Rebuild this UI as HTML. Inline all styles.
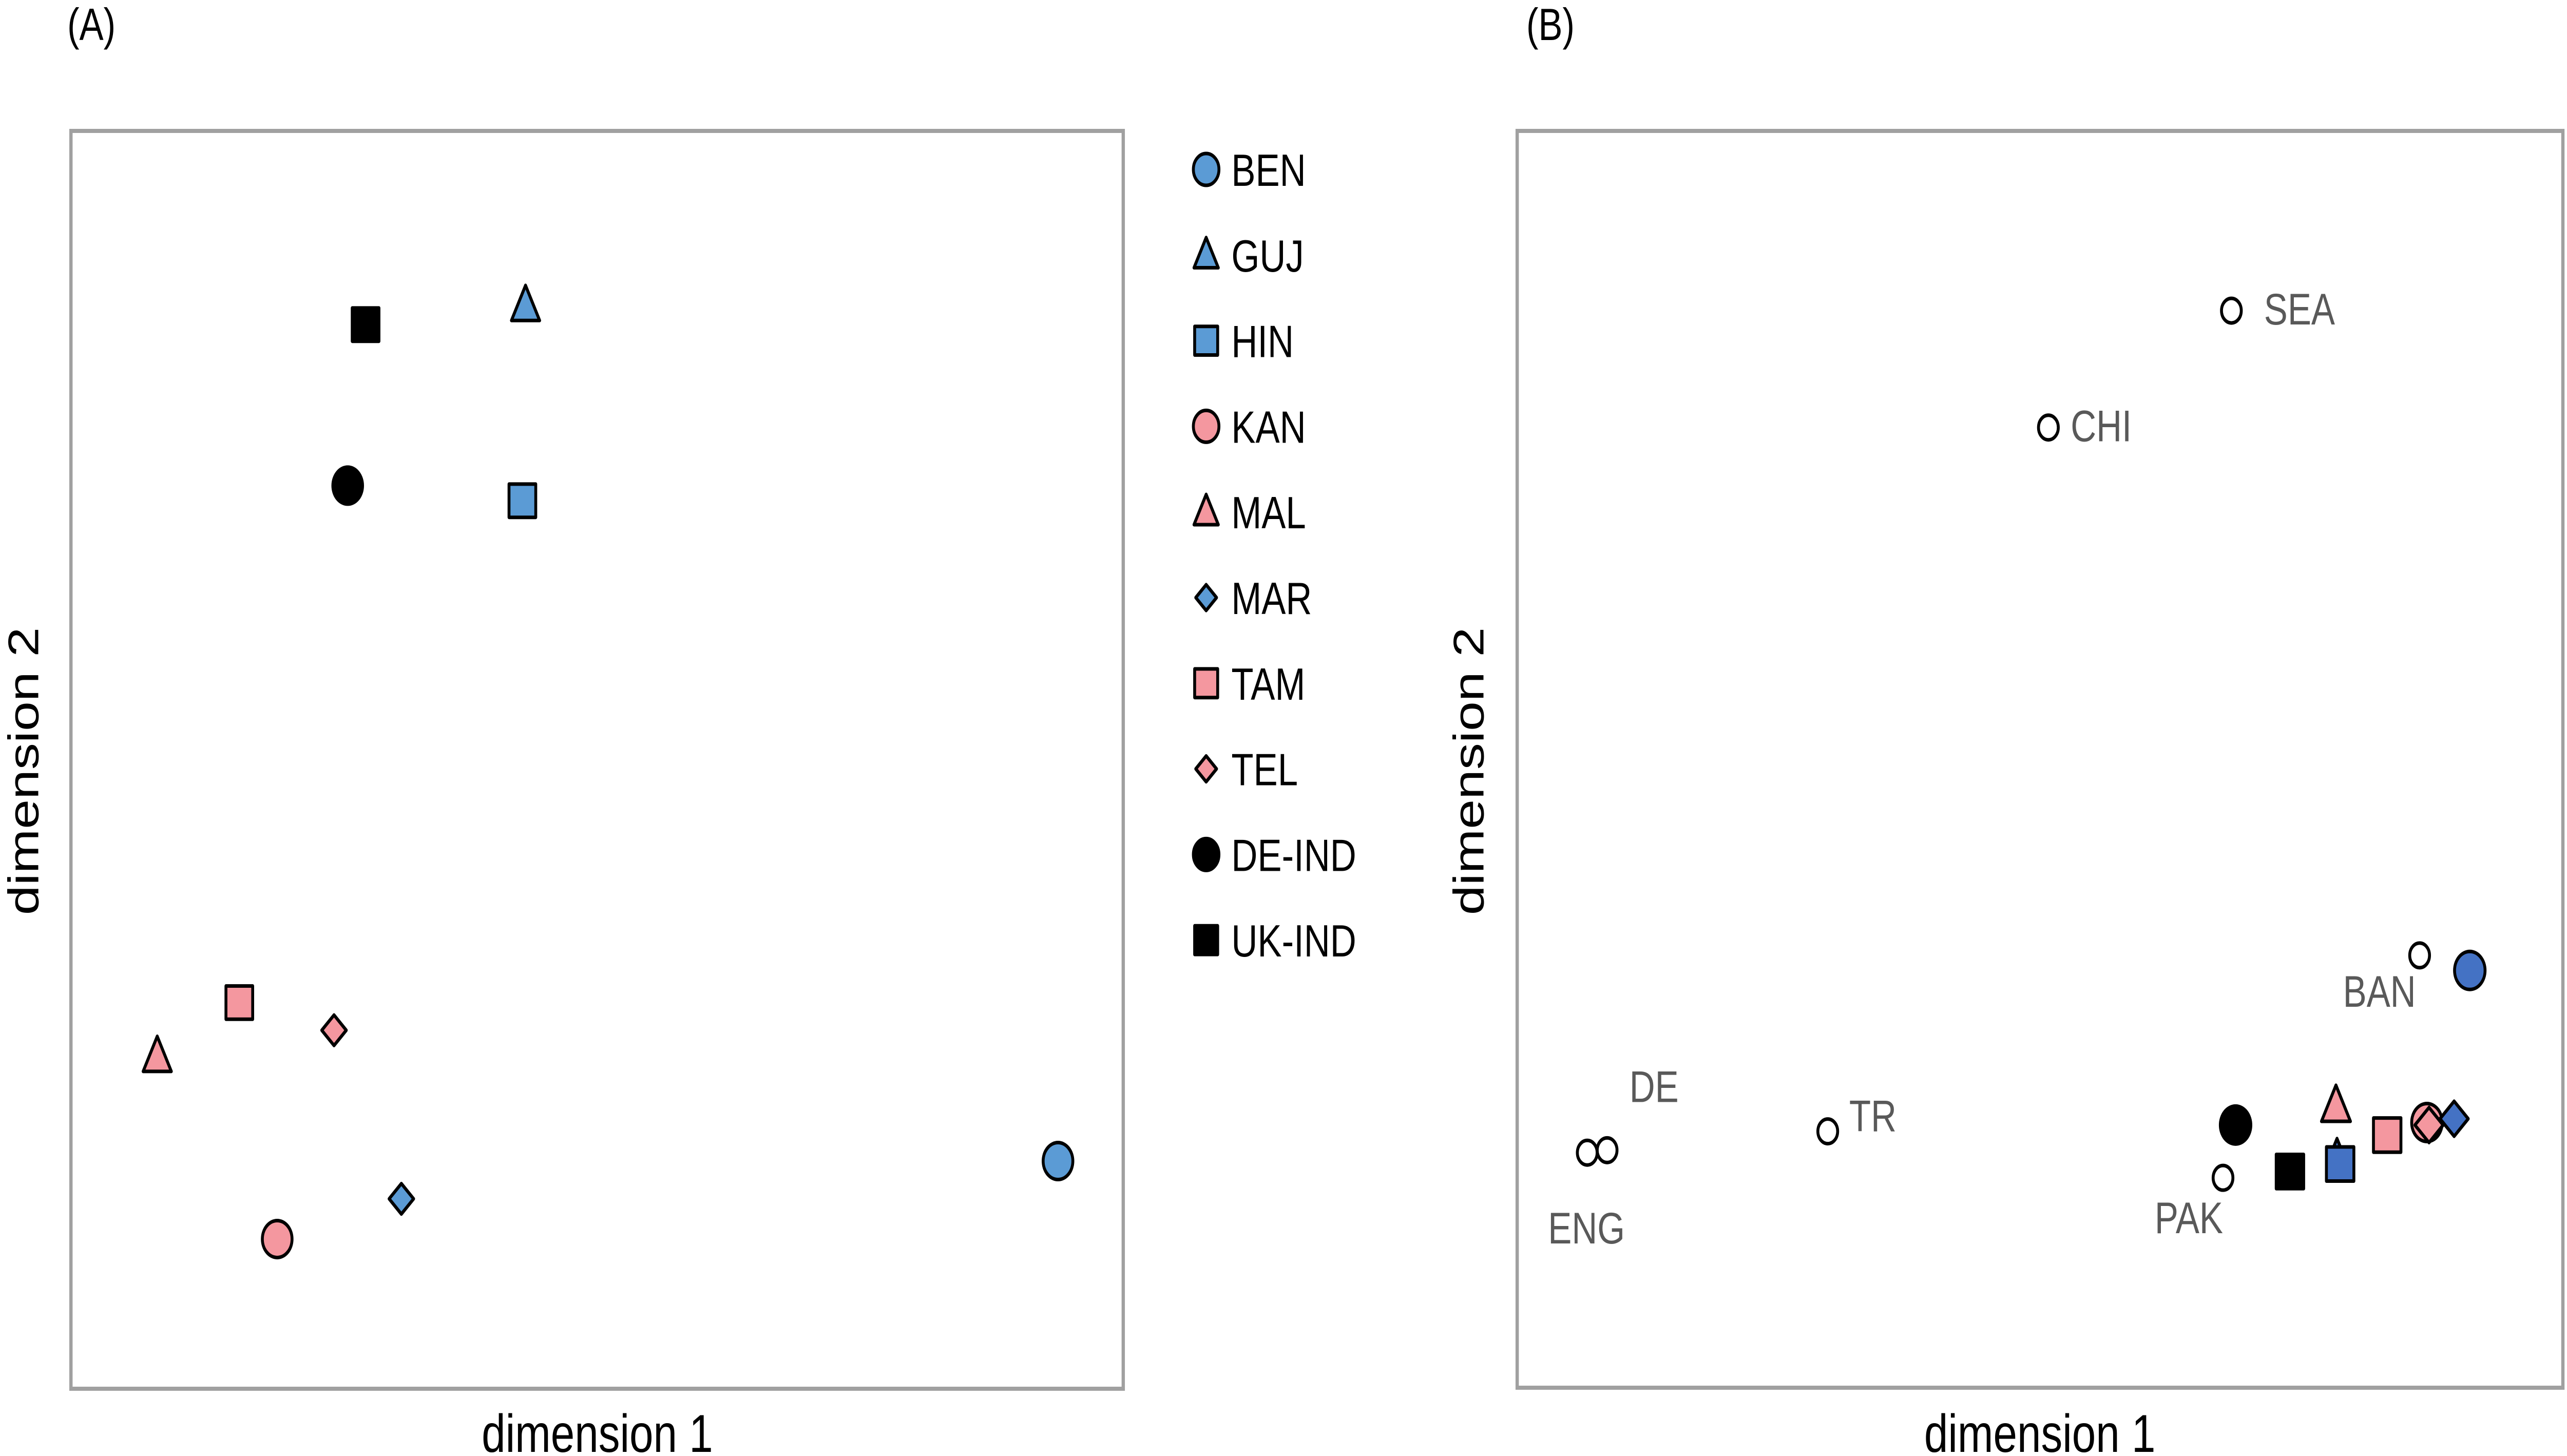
<!DOCTYPE html>
<html><head><meta charset="utf-8"><style>
html,body{margin:0;padding:0;background:#fff;overflow:hidden;width:100%;height:100%;}
svg{display:block;font-family:"Liberation Sans",sans-serif;width:100vw;height:100vh;}
</style></head><body>
<svg id="chart" viewBox="0 0 6223 2836" preserveAspectRatio="none" xmlns="http://www.w3.org/2000/svg">
<rect x="0" y="0" width="6223" height="2836" fill="#fff"/>
<text x="163" y="78" font-size="88" fill="#000">(A)</text>
<text x="3700" y="78" font-size="88" fill="#000">(B)</text>
<rect x="172" y="255" width="2551" height="2450" fill="none" stroke="#a0a0a0" stroke-width="8"/>
<rect x="3678" y="255" width="2535" height="2448" fill="none" stroke="#a0a0a0" stroke-width="8"/>
<text x="1448" y="2828" font-size="104" text-anchor="middle" fill="#000">dimension 1</text>
<text x="4945" y="2828" font-size="104" text-anchor="middle" fill="#000">dimension 1</text>
<text transform="translate(93,1502) rotate(-90)" font-size="104" text-anchor="middle" fill="#000">dimension 2</text>
<text transform="translate(3596,1502) rotate(-90)" font-size="104" text-anchor="middle" fill="#000">dimension 2</text>
<g id="ga"></g>
<g id="legend"></g>
<g id="gb"></g>
</svg>
<script>
// Panel A data (arbitrary MDS units, 0-100)
const groupsA = ["BEN","GUJ","HIN","KAN","MAL","MAR","TAM","TEL","DE-IND","UK-IND"];
const dim1A = [93.8, 43.2, 42.9, 19.6, 8.2, 31.4, 16.0, 25.0, 26.3, 28.0];
const dim2A = [18.1, 86.1, 70.6, 11.9, 26.4, 15.1, 30.7, 28.5, 71.8, 84.6];
// Panel B data: Indian groups
const groupsB = ["DE-IND","UK-IND","MAL","GUJ","HIN","TAM","KAN","TEL","MAR","BEN"];
const dim1B = [68.7, 73.9, 78.3, 78.4, 78.7, 83.2, 87.0, 87.2, 89.6, 91.1];
const dim2B = [20.9, 17.2, 22.4, 18.7, 17.8, 20.1, 21.1, 20.9, 21.4, 33.2];
// Panel B data: reference groups (open circles)
const refNames = ["SEA","CHI","BAN","DE","ENG","TR","PAK"];
const refDim1 = [68.3, 50.8, 86.3, 8.6, 6.7, 29.7, 67.5];
const refDim2 = [85.7, 76.4, 34.4, 18.9, 18.7, 20.4, 16.7];

const NS = "http://www.w3.org/2000/svg";
const xA = v => 172 + v / 100 * 2551;
const yA = v => 2705 - v / 100 * 2450;
const xB = v => 3678 + v / 100 * 2535;
const yB = v => 2703 - v / 100 * 2448;

const BLUE_A = "#5b9bd5", BLUE_B = "#4472c4", PINK = "#f4979f", BLACK = "#000";
function style(name, blue) {
  const s = {
    "BEN": ["circle", blue], "GUJ": ["triangle", blue], "HIN": ["square", blue],
    "KAN": ["circle", PINK], "MAL": ["triangle", PINK], "MAR": ["diamond", blue],
    "TAM": ["square", PINK], "TEL": ["diamond", PINK], "DE-IND": ["circle", BLACK],
    "UK-IND": ["square", BLACK]
  };
  return s[name];
}
function marker(parent, shape, cx, cy, size, fill) {
  let el;
  if (shape === "circle") {
    el = document.createElementNS(NS, "circle");
    el.setAttribute("cx", cx); el.setAttribute("cy", cy); el.setAttribute("r", size / 2);
  } else if (shape === "square") {
    el = document.createElementNS(NS, "rect");
    const s = size * 0.9;
    el.setAttribute("x", cx - s / 2); el.setAttribute("y", cy - s / 2);
    el.setAttribute("width", s); el.setAttribute("height", s);
  } else if (shape === "triangle") {
    el = document.createElementNS(NS, "polygon");
    const h = size * 0.95, w = size * 0.95;
    el.setAttribute("points", `${cx},${cy - h * 0.58} ${cx + w / 2},${cy + h * 0.42} ${cx - w / 2},${cy + h * 0.42}`);
  } else {
    el = document.createElementNS(NS, "polygon");
    const r = size * 0.45;
    el.setAttribute("points", `${cx},${cy - r} ${cx + r},${cy} ${cx},${cy + r} ${cx - r},${cy}`);
  }
  el.setAttribute("fill", fill);
  el.setAttribute("stroke", "#000");
  el.setAttribute("stroke-width", "7");
  el.setAttribute("stroke-linejoin", "round");
  parent.appendChild(el);
  return el;
}

const ga = document.getElementById("ga");
groupsA.forEach((g, i) => {
  const [shape, fill] = style(g, BLUE_A);
  const el = marker(ga, shape, xA(dim1A[i]), yA(dim2A[i]), shape === "diamond" ? 66 : 72, fill);
  
  
});

const leg = document.getElementById("legend");
groupsA.forEach((g, i) => {
  const [shape, fill] = style(g, BLUE_A);
  const cy = 330 + i * 166.8;
  const m = marker(leg, shape, 2924, cy, shape === "diamond" ? 56 : 62, fill);
  
  
  const t = document.createElementNS(NS, "text");
  t.setAttribute("x", 2985); t.setAttribute("y", cy + 32);
  t.setAttribute("font-size", "88"); t.setAttribute("fill", "#000");
  t.textContent = g;
  
  
  leg.appendChild(t);
});

const gb = document.getElementById("gb");
const labelOff = {"SEA":[79,27,"start"],"CHI":[54,27,"start"],"BAN":[-9,100,"end"],"DE":[54,-94,"start"],"ENG":[-95,177,"start"],"TR":[52,0,"start"],"PAK":[0,108,"end"]};
refNames.forEach((n, i) => {
  const cx = xB(refDim1[i]), cy = yB(refDim2[i]);
  const c = marker(gb, "circle", cx, cy, 48, "#fff");
  
  
  const o = labelOff[n];
  const t = document.createElementNS(NS, "text");
  t.setAttribute("x", cx + o[0]); t.setAttribute("y", cy + o[1]);
  t.setAttribute("text-anchor", o[2]);
  t.setAttribute("font-size", "86"); t.setAttribute("fill", "#595959");
  t.textContent = n;
  
  
  gb.appendChild(t);
});
groupsB.forEach((g, i) => {
  const [shape, fill] = style(g, BLUE_B);
  let size = shape === "diamond" ? 76 : 74;
  if (g === "GUJ") size = 50;
  const el = marker(gb, shape, xB(dim1B[i]), yB(dim2B[i]), size, fill);
  
  
});
</script>
</body></html>
